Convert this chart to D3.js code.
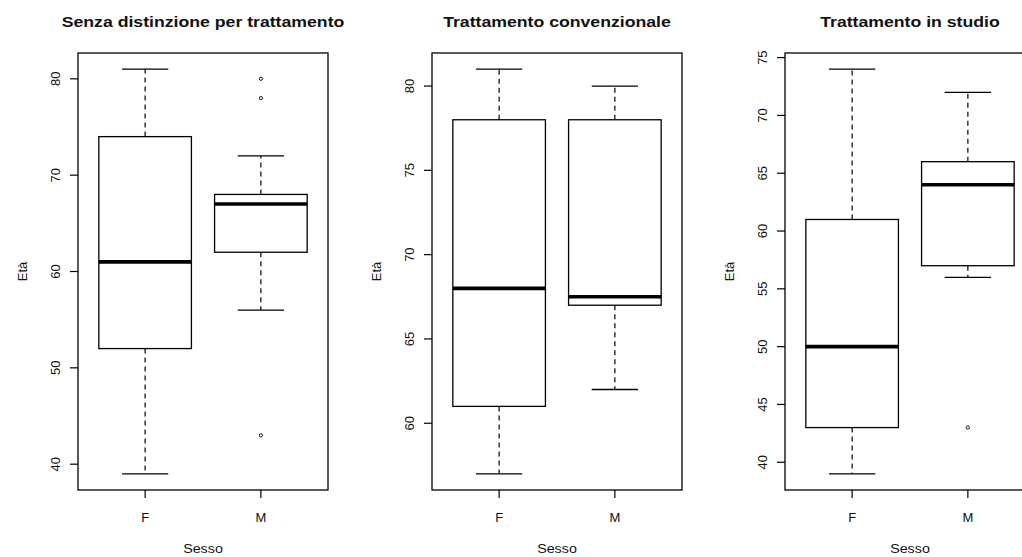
<!DOCTYPE html>
<html>
<head>
<meta charset="utf-8">
<script src="https://cdn.jsdelivr.net/npm/d3@7"></script>
<style>
  html, body { margin: 0; padding: 0; background: #fff; }
  svg { display: block; font-family: "Liberation Sans", Arial, sans-serif; }
</style>
</head>
<body>
<svg id="chart" width="1022" height="557"></svg>
<script>
// five number summaries per panel: [lowWhisker, q1, median, q3, highWhisker]
var groups = ['F', 'M'];
var panelTitles = ['Senza distinzione per trattamento', 'Trattamento convenzionale', 'Trattamento in studio'];

var allStats = [[39, 52, 61, 74, 81], [56, 62, 67, 68, 72]];
var allOutliers = [[], [80, 78, 43]];
var allTicks = [40, 50, 60, 70, 80];

var convStats = [[57, 61, 68, 78, 81], [62, 67, 67.5, 78, 80]];
var convOutliers = [[], []];
var convTicks = [60, 65, 70, 75, 80];

var studyStats = [[39, 43, 50, 61, 74], [56, 57, 64, 66, 72]];
var studyOutliers = [[], [43]];
var studyTicks = [40, 45, 50, 55, 60, 65, 70, 75];

var panels = [
  { title: panelTitles[0], stats: allStats, outliers: allOutliers, ticks: allTicks },
  { title: panelTitles[1], stats: convStats, outliers: convOutliers, ticks: convTicks },
  { title: panelTitles[2], stats: studyStats, outliers: studyOutliers, ticks: studyTicks }
];

var svg = d3.select('#chart'),
    lefts = [78, 432, 785],
    plotTop = 53,
    w = 250,
    h = 437;

panels.forEach(function(p, i) {
  var g = svg.append('g').attr('transform', 'translate(' + lefts[i] + ',' + plotTop + ')'),
      vals = [],
      lo, hi, pad, x, y;

  p.stats.forEach(function(s) { vals = vals.concat(s); });
  p.outliers.forEach(function(o) { vals = vals.concat(o); });
  lo = d3.min(vals);
  hi = d3.max(vals);
  pad = (hi - lo) * 0.04;

  // R style 4% expansion on both axes
  x = d3.scaleLinear().domain([0.42, 2.58]).range([0, w]);
  y = d3.scaleLinear().domain([lo - pad, hi + pad]).range([h, 0]);

  var bw = x(1.4) - x(1),
      cw = x(1.2) - x(1);

  var box = g.selectAll('.box')
    .data(p.stats)
    .enter().append('g')
      .attr('class', 'box')
      .attr('transform', function(d, j) { return 'translate(' + x(j + 1) + ',0)'; });

  // whiskers
  box.append('line')
    .attr('x1', 0).attr('x2', 0)
    .attr('y1', function(d) { return y(d[3]); })
    .attr('y2', function(d) { return y(d[4]); })
    .attr('stroke', '#000').attr('stroke-width', 1.2).attr('stroke-dasharray', '5,4');
  box.append('line')
    .attr('x1', 0).attr('x2', 0)
    .attr('y1', function(d) { return y(d[1]); })
    .attr('y2', function(d) { return y(d[0]); })
    .attr('stroke', '#000').attr('stroke-width', 1.2).attr('stroke-dasharray', '5,4');
  // staples
  [0, 4].forEach(function(k) {
    box.append('line')
      .attr('x1', -cw).attr('x2', cw)
      .attr('y1', function(d) { return y(d[k]); })
      .attr('y2', function(d) { return y(d[k]); })
      .attr('stroke', '#000').attr('stroke-width', 1.3);
  });
  box.append('rect')
    .attr('x', -bw)
    .attr('width', 2 * bw)
    .attr('y', function(d) { return y(d[3]); })
    .attr('height', function(d) { return y(d[1]) - y(d[3]); })
    .attr('fill', '#fff').attr('stroke', '#000').attr('stroke-width', 1.3);
  box.append('line')
    .attr('x1', -bw).attr('x2', bw)
    .attr('y1', function(d) { return y(d[2]); })
    .attr('y2', function(d) { return y(d[2]); })
    .attr('stroke', '#000').attr('stroke-width', 3.6);

  p.outliers.forEach(function(o, j) {
    g.selectAll('.out' + j)
      .data(o)
      .enter().append('circle')
        .attr('cx', x(j + 1))
        .attr('cy', function(d) { return y(d); })
        .attr('r', 1.6)
        .attr('fill', 'none').attr('stroke', '#000').attr('stroke-width', 0.9);
  });

  // frame
  g.append('rect')
    .attr('width', w).attr('height', h)
    .attr('fill', 'none').attr('stroke', '#000').attr('stroke-width', 1.3);

  // y axis
  var yAx = g.append('g').selectAll('.ytick')
    .data(p.ticks)
    .enter().append('g')
      .attr('transform', function(d) { return 'translate(0,' + y(d) + ')'; });
  yAx.append('line').attr('x1', -8).attr('x2', 0).attr('stroke', '#000').attr('stroke-width', 1.2);
  yAx.append('text')
    .attr('transform', 'translate(-18,0) rotate(-90)')
    .attr('text-anchor', 'middle')
    .style('font-size', '13px')
    .attr('fill', '#111')
    .text(function(d) { return d; });

  // x axis
  var xAx = g.append('g').selectAll('.xtick')
    .data(groups)
    .enter().append('g')
      .attr('transform', function(d, j) { return 'translate(' + x(j + 1) + ',' + h + ')'; });
  xAx.append('line').attr('y1', 0).attr('y2', 8).attr('stroke', '#000').attr('stroke-width', 1.2);
  xAx.append('text')
    .attr('y', 32)
    .attr('text-anchor', 'middle')
    .style('font-size', '13px')
    .attr('fill', '#111')
    .text(function(d) { return d; });

  // the source image is a bit stretched sideways, so scale the wide texts
  g.append('text')
    .attr('transform', 'translate(' + (w / 2) + ',' + (h + 63) + ') scale(1.1,1)')
    .attr('text-anchor', 'middle')
    .style('font-size', '13px')
    .attr('fill', '#111')
    .text('Sesso');
  g.append('text')
    .attr('transform', 'translate(-51,' + (h / 2) + ') rotate(-90)')
    .attr('text-anchor', 'middle')
    .style('font-size', '13px')
    .attr('fill', '#111')
    .text('Età');
  g.append('text')
    .attr('transform', 'translate(' + (w / 2) + ',-26) scale(1.14,1)')
    .attr('text-anchor', 'middle')
    .style('font-size', '15.5px')
    .style('font-weight', 'bold')
    .attr('fill', '#111')
    .text(p.title);
});
</script>
</body>
</html>
